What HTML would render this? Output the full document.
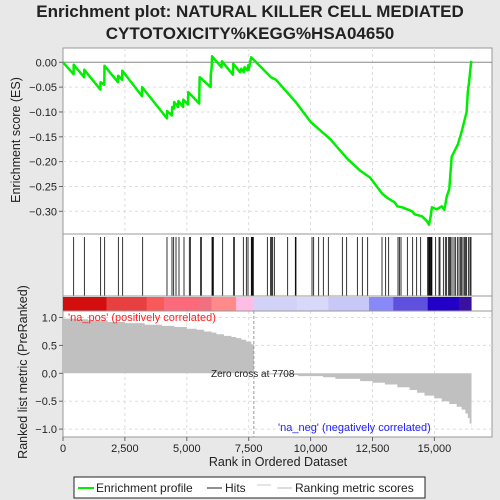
<!DOCTYPE html>
<html><head><meta charset="utf-8"><style>
body{margin:0;background:#e8e8e8;}
svg{display:block;font-family:"Liberation Sans",sans-serif;}
</style></head><body>
<svg id="c" width="500" height="500" viewBox="0 0 500 500">
<rect x="0" y="0" width="500" height="500" fill="#e8e8e8"/>
<text x="250" y="17" text-anchor="middle" font-size="17" font-weight="bold" fill="#222">Enrichment plot: NATURAL KILLER CELL MEDIATED</text>
<text x="250" y="39" text-anchor="middle" font-size="17" font-weight="bold" fill="#222">CYTOTOXICITY%KEGG%HSA04650</text>
<rect x="63" y="48" width="429" height="389" fill="#fff" stroke="#999"/>
<g id="grid"></g>
<g id="es"></g>
<g id="hits"></g>
<g id="bar"></g>
<g id="metric"></g>
<g id="axes"></g>
<text x="68" y="321" font-size="11" fill="#ff2020">'na_pos' (positively correlated)</text>
<text x="278" y="431" font-size="11" fill="#2020ff">'na_neg' (negatively correlated)</text>
<text x="211" y="377" font-size="10" fill="#222">Zero cross at 7708</text>
<text x="20" y="140" font-size="12.5" fill="#222" text-anchor="middle" transform="rotate(-90 20 140)">Enrichment score (ES)</text>
<text x="27" y="372" font-size="12.5" fill="#222" text-anchor="middle" transform="rotate(-90 27 372)">Ranked list metric (PreRanked)</text>
<text x="278" y="466" font-size="12.5" fill="#222" text-anchor="middle">Rank in Ordered Dataset</text>
<g>
<rect x="74" y="477" width="351" height="21" fill="#fff" stroke="#222"/>
<line x1="78" y1="488" x2="94" y2="488" stroke="#00ee00" stroke-width="2"/>
<text x="96" y="492" font-size="12" fill="#222">Enrichment profile</text>
<line x1="207" y1="488" x2="222" y2="488" stroke="#222" stroke-width="1"/>
<text x="225" y="492" font-size="12" fill="#222">Hits</text>
<line x1="257" y1="485" x2="271" y2="485" stroke="#ccc"/>
<line x1="277" y1="488" x2="292" y2="488" stroke="#bbb" stroke-width="1"/>
<text x="295" y="492" font-size="12" fill="#222">Ranking metric scores</text>
</g>
</svg>
<script>
const esRanks=[0,430,432,855,860,1510,1515,1670,1675,2220,2225,2390,2395,3190,3195,4200,4205,4400,4410,4480,4490,4650,4660,4850,4860,5050,5060,5500,5510,5520,5960,5970,6000,6020,6400,6420,6860,6880,7150,7200,7300,7330,7450,7480,7500,7600,7700,8400,8600,9400,10000,10800,11500,12000,12400,12900,13100,13400,13500,13700,14100,14200,14500,14700,14780,14850,14900,15100,15300,15400,15500,15600,15700,15800,15950,16100,16200,16300,16350,16400,16450,16490];
const esValues=[0,-0.024,-0.005,-0.03,-0.015,-0.055,-0.04,-0.045,-0.007,-0.04,-0.027,-0.035,-0.017,-0.068,-0.05,-0.113,-0.098,-0.107,-0.09,-0.093,-0.08,-0.09,-0.078,-0.09,-0.075,-0.085,-0.06,-0.083,-0.055,-0.03,-0.05,-0.025,-0.012,0.012,-0.01,0.002,-0.025,-0.003,-0.02,-0.013,-0.02,-0.01,-0.016,-0.006,-0.015,0.01,0.005,-0.03,-0.035,-0.08,-0.12,-0.155,-0.195,-0.218,-0.232,-0.265,-0.273,-0.282,-0.29,-0.292,-0.3,-0.306,-0.31,-0.32,-0.327,-0.31,-0.292,-0.296,-0.29,-0.297,-0.27,-0.255,-0.19,-0.18,-0.165,-0.14,-0.12,-0.1,-0.06,-0.04,-0.015,0.003];
const hitRanks=[431,862,1521,1683,2235,2410,3218,4200,4402,4470,4564,4685,4887,5102,5143,5560,5587,6018,6045,6072,6449,6893,6920,7283,7404,7472,7606,7633,7660,7687,8253,8387,8428,8468,8535,9074,9383,9410,10057,10124,10326,10514,10716,11282,11457,11888,12089,12305,12884,13032,13153,13530,13584,13651,13907,14123,14284,14446,14729,14760,14790,14820,14850,14880,14900,15051,15186,15226,15361,15441,15495,15576,15617,15657,15711,15792,15845,15926,15993,16047,16101,16155,16209,16263,16303,16384,16438,16478];
const metricRanks=[0,500,1000,1800,2500,3300,4000,4500,5000,5400,5700,6000,6200,6500,6800,7000,7200,7400,7600,7708,8000,9000,9500,10500,11000,12000,12500,13000,13500,14000,14300,14600,15000,15300,15600,15900,16100,16250,16350,16420,16490];
const metricValues=[0.98,0.97,0.95,0.92,0.9,0.87,0.85,0.83,0.8,0.78,0.75,0.73,0.7,0.67,0.65,0.63,0.6,0.57,0.52,0,-0.02,-0.03,-0.05,-0.07,-0.1,-0.14,-0.17,-0.2,-0.25,-0.3,-0.35,-0.4,-0.45,-0.5,-0.55,-0.6,-0.65,-0.72,-0.8,-0.9,-1.0];
const barStarts=[0,1760,3380,4080,5530,6000,6990,7690,9450,10720,12360,13340,14730,16000];
const barColors=["#d40e0e","#e84040","#f85a5a","#fa6a7a","#f07080","#ff8a8a","#ffbde6","#d2d2f8","#d8d8fa","#c8c8f8","#8888f8","#6050e0","#2200c8","#3a10a0"];
const xTicks=[0,2500,5000,7500,10000,12500,15000];
const esTicks=[0,-0.05,-0.1,-0.15,-0.2,-0.25,-0.3];
const metricTicks=[1,0.5,0,-0.5,-1];
const N=16500;
const X=r=>63+r*0.02476;
const YE=v=>62.3-v*496.7;
const YM=v=>373.3-v*55.8;
const NS="http://www.w3.org/2000/svg";
function mk(tag,attrs,parent){const e=document.createElementNS(NS,tag);for(const k in attrs)e.setAttribute(k,attrs[k]);document.getElementById(parent).appendChild(e);return e;}
// grid
xTicks.forEach(t=>{if(t===0)return;
 const g=mk('line',{x1:X(t),x2:X(t),y1:48,y2:234,stroke:'#ddd','stroke-dasharray':'3,3'},'grid');
 
 
 const g2=mk('line',{x1:X(t),x2:X(t),y1:311,y2:437,stroke:'#ddd','stroke-dasharray':'3,3'},'grid');
 
 });
esTicks.forEach(t=>{if(t===0)return;
 const g=mk('line',{x1:63,x2:492,y1:YE(t),y2:YE(t),stroke:'#ddd','stroke-dasharray':'3,3'},'grid');
 
 });
metricTicks.forEach(t=>{if(t===0)return;
 const g=mk('line',{x1:63,x2:492,y1:YM(t),y2:YM(t),stroke:'#ddd','stroke-dasharray':'3,3'},'grid');
 
 });
// es zero line
const z=mk('line',{x1:63,x2:492,y1:YE(0),y2:YE(0),stroke:'#888'},'grid');


// panel separators
[234,296,311].forEach(y=>{const s=mk('line',{x1:63,x2:492,y1:y,y2:y,stroke:'#999'},'axes');
 
 });
// es curve
const pts=esRanks.map((r,i)=>X(r).toFixed(1)+','+YE(esValues[i]).toFixed(1)).join(' ');
const pl=mk('polyline',{points:pts,fill:'none',stroke:'#00ee00','stroke-width':2.5,'stroke-linejoin':'round'},'es');


// hits
hitRanks.forEach(r=>{const h=mk('line',{x1:X(r),x2:X(r),y1:237,y2:296,stroke:'#000','stroke-width':0.8},'hits');
 
 });
// color bar
barStarts.forEach((s,i)=>{const e=i<barStarts.length-1?barStarts[i+1]:16490;
 const b=mk('rect',{x:X(s),y:297,width:X(e)-X(s)+0.3,height:14,fill:barColors[i]},'bar');
 
 });
// metric area
let d='M'+X(0)+','+YM(0);
metricRanks.forEach((r,i)=>{const e=i<metricRanks.length-1?metricRanks[i+1]:16500;
 d+=' L'+X(r).toFixed(1)+','+YM(metricValues[i]).toFixed(1)+' L'+X(e).toFixed(1)+','+YM(metricValues[i]).toFixed(1);});
d+=' L'+X(16500)+','+YM(0)+'Z';
const ma=mk('path',{d:d,fill:'#c0c0c0'},'metric');


const zc=mk('line',{x1:X(7708),x2:X(7708),y1:311,y2:437,stroke:'#999','stroke-dasharray':'3,2'},'metric');


// axes ticks/labels
xTicks.forEach(t=>{const tk=mk('line',{x1:X(t),x2:X(t),y1:437,y2:441,stroke:'#666'},'axes');
 
 
 const tx=mk('text',{x:X(t),y:452,'font-size':11,'text-anchor':'middle',fill:'#222'},'axes');
 tx.textContent=t.toLocaleString('en-US');
 
 });
esTicks.forEach(t=>{const tk=mk('line',{x1:59,x2:63,y1:YE(t),y2:YE(t),stroke:'#666'},'axes');
 
 
 const tx=mk('text',{x:57,y:YE(t)+4,'font-size':11,'text-anchor':'end',fill:'#222'},'axes');
 tx.textContent=(t<0?'\u2212':'')+Math.abs(t).toFixed(2);
 
 });
metricTicks.forEach(t=>{const tk=mk('line',{x1:59,x2:63,y1:YM(t),y2:YM(t),stroke:'#666'},'axes');
 
 
 const tx=mk('text',{x:57,y:YM(t)+4,'font-size':11,'text-anchor':'end',fill:'#222'},'axes');
 tx.textContent=(t<0?'\u2212':'')+Math.abs(t).toFixed(1);
 
 });
</script>
</body></html>
